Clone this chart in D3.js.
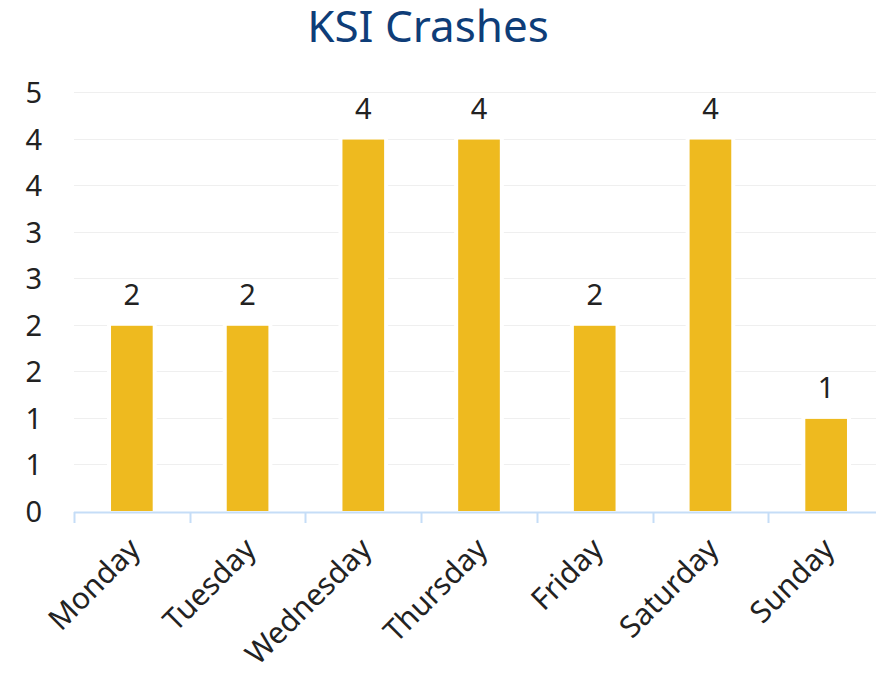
<!DOCTYPE html>
<html>
<head>
<meta charset="utf-8">
<script src="https://cdn.jsdelivr.net/npm/d3@7/dist/d3.min.js"></script>
<style>
  body { margin: 0; background: #fff; }
  text { font-family: "Noto Sans", "Open Sans", sans-serif; }
</style>
</head>
<body>
<script>
var days = ["Monday", "Tuesday", "Wednesday", "Thursday", "Friday", "Saturday", "Sunday"];
var crashes = [2, 2, 4, 4, 2, 4, 1];
var yTicks = [0, 0.5, 1, 1.5, 2, 2.5, 3, 3.5, 4, 4.5];
var yTickLabels = ["0", "1", "1", "2", "2", "3", "3", "4", "4", "5"];

var width = 876, height = 673;
var plotLeft = 74, plotRight = 884, plotTop = 92, plotBottom = 511;

var svg = d3.select("body")
   .append("svg")
   .attr("width", width)
   .attr("height", height);

var x = d3.scaleBand()
   .domain(days)
   .range([plotLeft, plotRight])
   .paddingInner(0)
   .paddingOuter(0);

var y = d3.scaleLinear()
   .domain([0, 4.5])
   .range([plotBottom, plotTop]);

// title
svg.append("text")
   .attr("x", 428)
   .attr("y", 42)
   .attr("text-anchor", "middle")
   .style("font-size", "44px")
   .style("fill", "#0e3d78")
   .text("KSI Crashes");

// grid lines
svg.append("g")
   .selectAll("line")
   .data(yTicks.slice(1))
   .enter()
   .append("line")
   .attr("x1", plotLeft)
   .attr("x2", plotRight)
   .attr("y1", function(d) { return Math.round(y(d)) + 0.5 })
   .attr("y2", function(d) { return Math.round(y(d)) + 0.5 })
   .style("stroke", "#efefef")
   .style("stroke-width", 1);

// y labels
svg.append("g")
   .selectAll("text")
   .data(yTicks)
   .enter()
   .append("text")
   .attr("x", 42)
   .attr("y", function(d) { return y(d) + 11 })
   .attr("text-anchor", "end")
   .style("font-size", "29px")
   .style("fill", "#222")
   .text(function(d, i) { return yTickLabels[i] });

var barW = x.bandwidth() * 0.36;

var bars = svg.append("g")
   .selectAll("g")
   .data(days)
   .enter()
   .append("g");

// white halo behind bars
bars.append("rect")
   .attr("x", function(d) { return x(d) + x.bandwidth() / 2 - barW / 2 - 4 })
   .attr("y", function(d, i) { return y(crashes[i]) - 4 })
   .attr("width", barW + 8)
   .attr("height", function(d, i) { return plotBottom - y(crashes[i]) + 4 })
   .style("fill", "#fff");

bars.append("rect")
   .attr("x", function(d) { return x(d) + x.bandwidth() / 2 - barW / 2 })
   .attr("y", function(d, i) { return y(crashes[i]) + 1 })
   .attr("width", barW)
   .attr("height", function(d, i) { return plotBottom - y(crashes[i]) - 1 })
   .style("fill", "#eeba1f");

bars.append("text")
   .attr("x", function(d) { return x(d) + x.bandwidth() / 2 })
   .attr("y", function(d, i) { return y(crashes[i]) - 20 })
   .attr("text-anchor", "middle")
   .style("font-size", "29px")
   .style("fill", "#222")
   .text(function(d, i) { return crashes[i] });

// x axis
var axis = svg.append("g");
axis.append("line")
   .attr("x1", plotLeft)
   .attr("x2", plotRight)
   .attr("y1", plotBottom + 1.5)
   .attr("y2", plotBottom + 1.5)
   .style("stroke", "#c5ddf7")
   .style("stroke-width", 2);

axis.selectAll("line.tick")
   .data(days.concat(["end"]))
   .enter()
   .append("line")
   .attr("class", "tick")
   .attr("x1", function(d, i) { return Math.round(i < days.length ? x(d) : plotRight) + 0.5 })
   .attr("x2", function(d, i) { return Math.round(i < days.length ? x(d) : plotRight) + 0.5 })
   .attr("y1", plotBottom + 1)
   .attr("y2", plotBottom + 12)
   .style("stroke", "#c5ddf7")
   .style("stroke-width", 2);

axis.selectAll("text")
   .data(days)
   .enter()
   .append("text")
   .attr("transform", function(d) {
      return "translate(" + (x(d) + x.bandwidth() / 2 + 10) + "," + (plotBottom + 40) + ") rotate(-45)"
   })
   .attr("text-anchor", "end")
   .style("font-size", "30px")
   .style("fill", "#222")
   .text(function(d) { return d });
</script>
</body>
</html>
